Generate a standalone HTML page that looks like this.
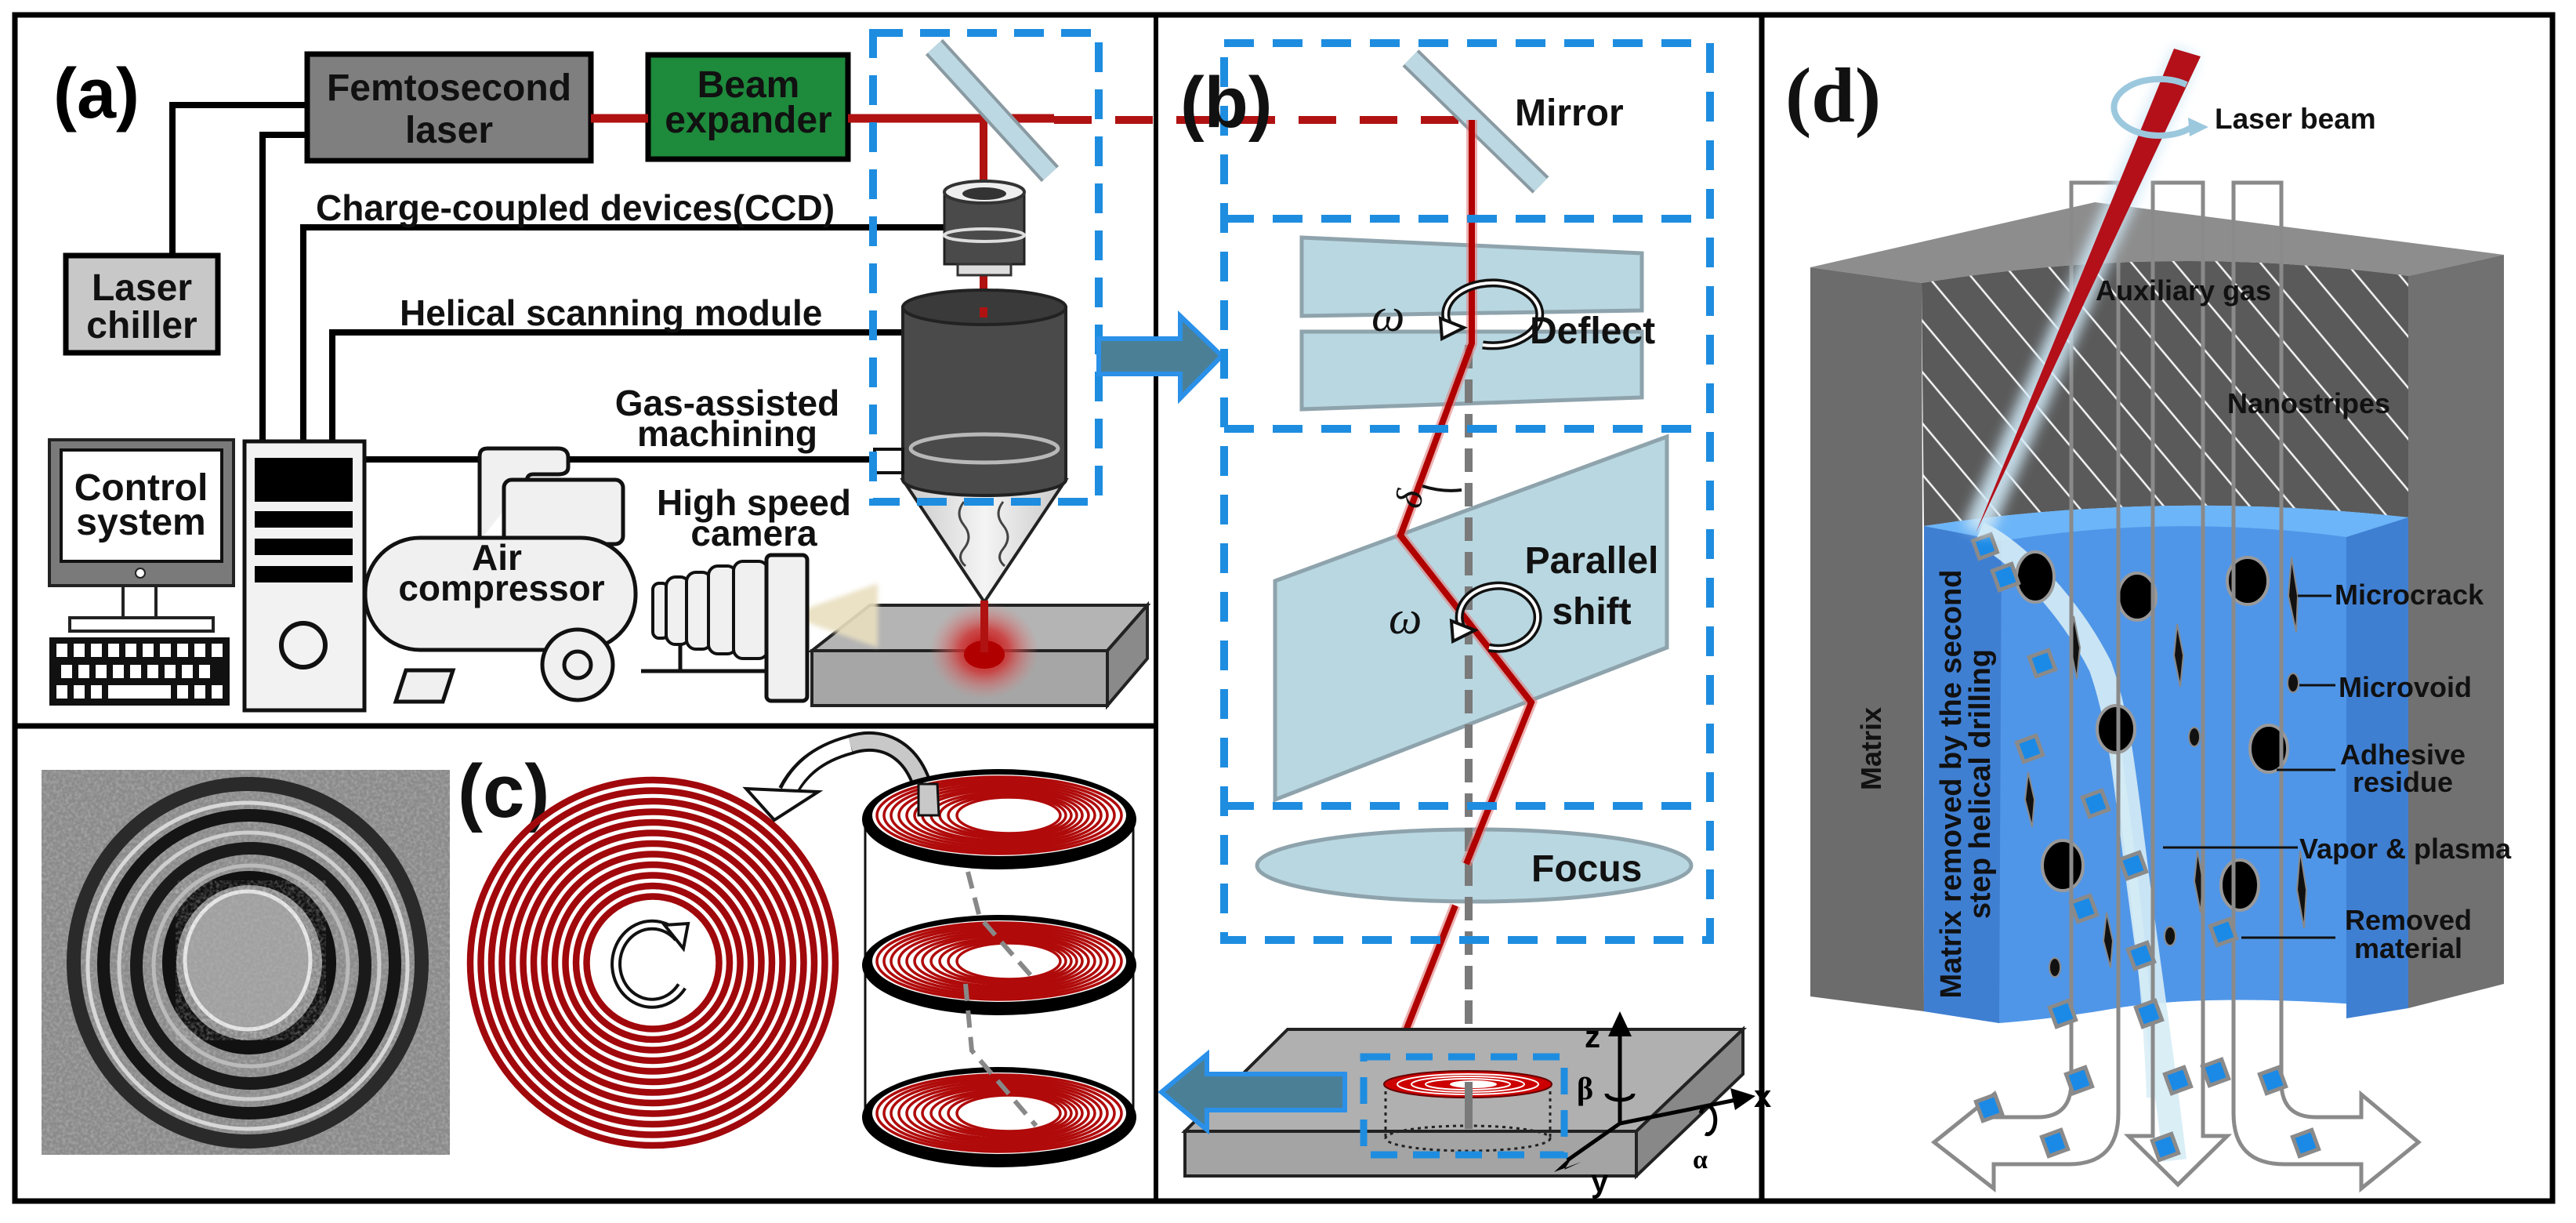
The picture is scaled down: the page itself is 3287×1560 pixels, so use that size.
<!DOCTYPE html>
<html><head><meta charset="utf-8"><style>
html,body{margin:0;padding:0;background:#fff;}
svg{display:block;font-family:"Liberation Sans",Arial,sans-serif;}
</style></head><body>
<svg width="3287" height="1560" viewBox="0 0 3287 1560" xmlns="http://www.w3.org/2000/svg">
<defs>
<pattern id="hatch" patternUnits="userSpaceOnUse" width="42" height="42" patternTransform="rotate(-40)">
<rect width="42" height="42" fill="#5a5a5a"/><line x1="20" y1="0" x2="20" y2="42" stroke="#f4f4f4" stroke-width="2.5"/></pattern>
<radialGradient id="glow" cx="0.5" cy="0.5" r="0.5"><stop offset="0" stop-color="#c00000"/><stop offset="0.45" stop-color="#d03030" stop-opacity="0.8"/><stop offset="1" stop-color="#e08080" stop-opacity="0"/></radialGradient>
<linearGradient id="cone" x1="0" x2="1"><stop offset="0" stop-color="#c8c8c8"/><stop offset="0.5" stop-color="#f4f4f4"/><stop offset="1" stop-color="#c8c8c8"/></linearGradient>
<filter id="blur8"><feGaussianBlur stdDeviation="8"/></filter>
<filter id="blur3"><feGaussianBlur stdDeviation="3"/></filter>
<filter id="noise"><feTurbulence type="fractalNoise" baseFrequency="0.25" numOctaves="2" seed="3"/><feColorMatrix type="matrix" values="0 0 0 0 0.5  0 0 0 0 0.5  0 0 0 0 0.5  0 0 0 1.4 -0.5"/></filter>
<clipPath id="photo"><rect x="53" y="982" width="521" height="491"/></clipPath>
</defs>
<rect width="3287" height="1560" fill="#fff"/>

<rect x="19" y="19" width="3238" height="1513" fill="none" stroke="#000" stroke-width="7"/>
<line x1="1475" y1="19" x2="1475" y2="1532" stroke="#000" stroke-width="6"/>
<line x1="2248" y1="19" x2="2248" y2="1532" stroke="#000" stroke-width="7"/>
<line x1="19" y1="926" x2="1475" y2="926" stroke="#000" stroke-width="7"/>

<!-- ============ PANEL A ============ -->
<text x="68" y="150" font-size="90" font-weight="bold">(a)</text>
<g stroke="#000" stroke-width="8" fill="none">
<polyline points="220,324 220,134 392,134"/>
<polyline points="335,563 335,172 392,172"/>
<polyline points="387,563 387,290 1205,290"/>
<polyline points="424,563 424,424 1152,424"/>
<line x1="465" y1="586" x2="1116" y2="586"/>
</g>
<rect x="392" y="69" width="362" height="136" fill="#7f7f7f" stroke="#000" stroke-width="7"/>
<text x="573" y="128" font-size="48" font-weight="bold" text-anchor="middle" fill="#111">Femtosecond</text>
<text x="573" y="182" font-size="48" font-weight="bold" text-anchor="middle" fill="#111">laser</text>
<rect x="827" y="70" width="255" height="133" fill="#1e8a3c" stroke="#000" stroke-width="7"/>
<text x="955" y="124" font-size="48" font-weight="bold" text-anchor="middle" fill="#111">Beam</text>
<text x="955" y="169" font-size="48" font-weight="bold" text-anchor="middle" fill="#111">expander</text>
<rect x="84" y="326" width="194" height="124" fill="#c8c8c8" stroke="#000" stroke-width="7"/>
<text x="181" y="383" font-size="48" font-weight="bold" text-anchor="middle" fill="#111">Laser</text>
<text x="181" y="431" font-size="48" font-weight="bold" text-anchor="middle" fill="#111">chiller</text>
<line x1="754" y1="151" x2="827" y2="151" stroke="#b01212" stroke-width="11"/>
<line x1="1082" y1="151" x2="1345" y2="151" stroke="#b01212" stroke-width="11"/>
<line x1="1345" y1="153" x2="1880" y2="153" stroke="#b01212" stroke-width="10" stroke-dasharray="48,30"/>
<line x1="1255" y1="151" x2="1255" y2="240" stroke="#b01212" stroke-width="10"/>
<line x1="1255" y1="345" x2="1255" y2="405" stroke="#b01212" stroke-width="10"/>
<line x1="1192" y1="60" x2="1340" y2="222" stroke="#8a9aa2" stroke-width="30"/>
<line x1="1192" y1="60" x2="1340" y2="222" stroke="#bcd8e2" stroke-width="22"/>
<text x="403" y="281" font-size="46" font-weight="bold" fill="#111">Charge-coupled devices(CCD)</text>
<text x="510" y="415" font-size="46" font-weight="bold" fill="#111">Helical scanning module</text>
<text x="928" y="530" font-size="46" font-weight="bold" text-anchor="middle" fill="#111">Gas-assisted</text>
<text x="928" y="569" font-size="46" font-weight="bold" text-anchor="middle" fill="#111">machining</text>
<rect x="1205" y="245" width="102" height="92" fill="#4a4a4a" stroke="#222" stroke-width="3"/>
<ellipse cx="1256" cy="245" rx="51" ry="14" fill="#eee" stroke="#333" stroke-width="4"/>
<ellipse cx="1256" cy="247" rx="28" ry="8" fill="#333"/>
<ellipse cx="1256" cy="300" rx="51" ry="8" fill="none" stroke="#ddd" stroke-width="4"/>
<rect x="1222" y="337" width="68" height="14" fill="#ddd" stroke="#333" stroke-width="3"/>
<polygon points="1152,612 1360,612 1256,768" fill="url(#cone)" stroke="#222" stroke-width="4"/>
<path d="M1230,640 q-12,15 0,30 q12,15 0,30 q-10,12 2,22 M1280,640 q-12,15 0,30 q12,15 0,30 q-10,12 2,22" fill="none" stroke="#444" stroke-width="3"/>
<rect x="1152" y="392" width="208" height="220" fill="#4a4a4a" stroke="#222" stroke-width="4"/>
<ellipse cx="1256" cy="612" rx="104" ry="20" fill="#4a4a4a" stroke="#222" stroke-width="4"/>
<rect x="1154" y="560" width="204" height="50" fill="#4a4a4a"/>
<ellipse cx="1256" cy="392" rx="104" ry="22" fill="#3a3a3a" stroke="#222" stroke-width="4"/>
<line x1="1255" y1="392" x2="1255" y2="405" stroke="#b01212" stroke-width="10"/>
<ellipse cx="1256" cy="572" rx="94" ry="18" fill="none" stroke="#b8b8b8" stroke-width="5"/>
<rect x="1116" y="573" width="36" height="30" fill="#fff" stroke="#111" stroke-width="4"/>
<rect x="1114" y="42" width="288" height="598" fill="none" stroke="#1e8de0" stroke-width="10" stroke-dasharray="38,22"/>
<polygon points="1402,432 1506,432 1506,403 1559,454 1506,508 1506,477 1402,477" fill="#4b7f96" stroke="#2a90e8" stroke-width="6"/>
<polygon points="1110,772 1464,772 1413,830 1036,830" fill="#b4b4b4" stroke="#222" stroke-width="4"/>
<polygon points="1036,830 1413,830 1413,900 1036,900" fill="#a6a6a6" stroke="#222" stroke-width="4"/>
<polygon points="1413,830 1464,772 1464,840 1413,900" fill="#8a8a8a" stroke="#222" stroke-width="4"/>
<ellipse cx="1256" cy="830" rx="70" ry="62" fill="url(#glow)"/>
<ellipse cx="1256" cy="835" rx="26" ry="18" fill="#b00000"/>
<line x1="1256" y1="766" x2="1256" y2="832" stroke="#b01212" stroke-width="10"/>
<polygon points="1004,785 1120,744 1120,826" fill="#e9dfbf" opacity="0.9" filter="url(#blur3)"/>
<rect x="63" y="561" width="235" height="186" fill="#7a7a7a" stroke="#222" stroke-width="4"/>
<rect x="78" y="574" width="205" height="142" fill="#fff" stroke="#111" stroke-width="4"/>
<text x="180" y="638" font-size="48" font-weight="bold" text-anchor="middle" fill="#111">Control</text>
<text x="180" y="682" font-size="48" font-weight="bold" text-anchor="middle" fill="#111">system</text>
<circle cx="179" cy="731" r="6" fill="#fff" stroke="#222" stroke-width="2"/>
<rect x="157" y="747" width="42" height="41" fill="#fff" stroke="#222" stroke-width="4"/>
<rect x="89" y="788" width="183" height="17" fill="#fff" stroke="#222" stroke-width="4"/>
<rect x="63" y="813" width="230" height="87" fill="#111"/>
<g fill="#fff">
<rect x="72" y="821" width="14" height="17"/><rect x="94" y="821" width="14" height="17"/><rect x="116" y="821" width="14" height="17"/><rect x="138" y="821" width="14" height="17"/><rect x="160" y="821" width="14" height="17"/><rect x="182" y="821" width="14" height="17"/><rect x="204" y="821" width="14" height="17"/><rect x="226" y="821" width="14" height="17"/><rect x="248" y="821" width="14" height="17"/><rect x="270" y="821" width="14" height="17"/>
<rect x="78" y="848" width="14" height="17"/><rect x="100" y="848" width="14" height="17"/><rect x="122" y="848" width="14" height="17"/><rect x="144" y="848" width="14" height="17"/><rect x="166" y="848" width="14" height="17"/><rect x="188" y="848" width="14" height="17"/><rect x="210" y="848" width="14" height="17"/><rect x="232" y="848" width="14" height="17"/><rect x="254" y="848" width="14" height="17"/>
<rect x="72" y="874" width="14" height="17"/><rect x="94" y="874" width="14" height="17"/><rect x="116" y="874" width="14" height="17"/><rect x="138" y="874" width="80" height="17"/><rect x="226" y="874" width="14" height="17"/><rect x="248" y="874" width="14" height="17"/><rect x="270" y="874" width="14" height="17"/>
</g>
<rect x="312" y="563" width="153" height="343" fill="#f2f2f2" stroke="#111" stroke-width="5"/>
<rect x="325" y="584" width="125" height="56" fill="#000"/>
<rect x="325" y="652" width="125" height="21" fill="#000"/>
<rect x="325" y="687" width="125" height="21" fill="#000"/>
<rect x="325" y="722" width="125" height="21" fill="#000"/>
<ellipse cx="387" cy="823" rx="28" ry="28" fill="none" stroke="#111" stroke-width="6"/>
<path d="M612,690 V582 Q612,572 622,572 H712 Q725,572 725,584 V596 Q725,605 712,605 H680 Q672,605 672,615" fill="#f0f0f0" stroke="#111" stroke-width="5"/>
<rect x="643" y="612" width="152" height="82" rx="10" fill="#f0f0f0" stroke="#111" stroke-width="5"/>
<rect x="466" y="686" width="345" height="143" rx="70" fill="#f0f0f0" stroke="#111" stroke-width="5"/>
<text x="634" y="727" font-size="46" font-weight="bold" text-anchor="middle" fill="#111">Air</text>
<text x="640" y="766" font-size="46" font-weight="bold" text-anchor="middle" fill="#111">compressor</text>
<polygon points="518,855 578,855 565,895 505,895" fill="#f0f0f0" stroke="#111" stroke-width="5"/>
<circle cx="737" cy="848" r="45" fill="#f0f0f0" stroke="#111" stroke-width="5"/>
<circle cx="737" cy="848" r="17" fill="#f0f0f0" stroke="#111" stroke-width="5"/>
<text x="962" y="657" font-size="46" font-weight="bold" text-anchor="middle" fill="#111">High speed</text>
<text x="962" y="696" font-size="46" font-weight="bold" text-anchor="middle" fill="#111">camera</text>
<line x1="818" y1="856" x2="1030" y2="856" stroke="#111" stroke-width="5"/>
<line x1="868" y1="823" x2="868" y2="856" stroke="#111" stroke-width="5"/>
<rect x="833" y="744" width="20" height="70" rx="8" fill="#f0f0f0" stroke="#111" stroke-width="4"/>
<rect x="850" y="736" width="30" height="86" rx="12" fill="#f0f0f0" stroke="#111" stroke-width="4"/>
<rect x="876" y="730" width="32" height="98" rx="12" fill="#f0f0f0" stroke="#111" stroke-width="4"/>
<rect x="904" y="722" width="36" height="112" rx="12" fill="#f0f0f0" stroke="#111" stroke-width="4"/>
<rect x="936" y="716" width="44" height="124" rx="12" fill="#f0f0f0" stroke="#111" stroke-width="4"/>
<rect x="978" y="708" width="52" height="186" rx="6" fill="#f0f0f0" stroke="#111" stroke-width="5"/>

<!-- ============ PANEL C ============ -->
<g clip-path="url(#photo)">
<rect x="53" y="982" width="521" height="491" fill="#8a8a8a"/>
<rect x="53" y="982" width="521" height="491" filter="url(#noise)" opacity="0.8"/>
<g fill="none">
<ellipse cx="316" cy="1228" rx="222" ry="228" stroke="#2a2a2a" stroke-width="18"/>
<ellipse cx="316" cy="1232" rx="204" ry="208" stroke="#d8d8d8" stroke-width="5"/>
<ellipse cx="318" cy="1230" rx="186" ry="190" stroke="#151515" stroke-width="16"/>
<ellipse cx="318" cy="1232" rx="166" ry="170" stroke="#cfcfcf" stroke-width="5"/>
<ellipse cx="320" cy="1232" rx="146" ry="150" stroke="#1a1a1a" stroke-width="16"/>
<ellipse cx="320" cy="1232" rx="124" ry="128" stroke="#bbb" stroke-width="5"/>
<ellipse cx="318" cy="1228" rx="102" ry="108" stroke="#111" stroke-width="18"/>
</g>
<ellipse cx="316" cy="1225" rx="80" ry="88" fill="#a0a0a0" stroke="#e8e8e8" stroke-width="5"/>
<rect x="240" y="1140" width="160" height="170" filter="url(#noise)" opacity="0.6"/>
</g>
<text x="584" y="1042" font-size="96" font-weight="bold" fill="#111">(c)</text>
<g fill="none" stroke="#a0080c" stroke-width="8.5">
<circle cx="833" cy="1228" r="233"/><circle cx="833" cy="1228" r="219.5"/><circle cx="833" cy="1228" r="206"/><circle cx="833" cy="1228" r="192.5"/><circle cx="833" cy="1228" r="179"/><circle cx="833" cy="1228" r="165.5"/><circle cx="833" cy="1228" r="152"/><circle cx="833" cy="1228" r="138.5"/><circle cx="833" cy="1228" r="125"/><circle cx="833" cy="1228" r="111.5"/><circle cx="833" cy="1228" r="98"/><circle cx="833" cy="1228" r="84.5"/>
</g>
<path d="M866,1196 A46,50 0 1 0 870,1258" fill="none" stroke="#111" stroke-width="14"/>
<path d="M866,1196 A46,50 0 1 0 870,1258" fill="none" stroke="#fff" stroke-width="6"/>
<polygon points="848,1180 878,1178 872,1210" fill="#fff" stroke="#111" stroke-width="4"/>
<path d="M1184,1045 C1180,960 1130,935 1085,950 C1040,962 1018,985 1005,1010" fill="none" stroke="#111" stroke-width="26"/>
<path d="M1184,1045 C1180,960 1130,935 1085,950" fill="none" stroke="#c8c8c8" stroke-width="18"/>
<path d="M1085,950 C1040,962 1018,985 1005,1012" fill="none" stroke="#fff" stroke-width="18"/>
<polygon points="952,1006 1044,1010 988,1046" fill="#fff" stroke="#111" stroke-width="4"/>
<line x1="1104" y1="1045" x2="1104" y2="1424" stroke="#111" stroke-width="3"/>
<line x1="1446" y1="1045" x2="1446" y2="1424" stroke="#111" stroke-width="3"/>
<g id="disk1">
<ellipse cx="1275" cy="1045" rx="175" ry="64" fill="#000"/>
<ellipse cx="1275" cy="1040" rx="162" ry="52" fill="#fff"/>
<g fill="none" stroke="#b00a0a" stroke-width="3.5">
<ellipse cx="1275" cy="1040" rx="156" ry="49"/><ellipse cx="1275" cy="1040" rx="147" ry="46"/><ellipse cx="1275" cy="1040" rx="138" ry="43"/><ellipse cx="1276" cy="1040" rx="129" ry="40"/><ellipse cx="1277" cy="1040" rx="120" ry="37"/><ellipse cx="1278" cy="1040" rx="111" ry="34"/><ellipse cx="1279" cy="1040" rx="102" ry="32"/><ellipse cx="1281" cy="1040" rx="93" ry="29"/><ellipse cx="1283" cy="1040" rx="84" ry="27"/><ellipse cx="1285" cy="1040" rx="75" ry="25"/><ellipse cx="1287" cy="1040" rx="66" ry="23"/></g>
<ellipse cx="1290" cy="1040" rx="55" ry="19" fill="#fff"/>
</g>
<use href="#disk1" transform="translate(0,186)"/>
<use href="#disk1" transform="translate(0,380)"/>
<g stroke="#888" stroke-width="6" stroke-dasharray="22,12" fill="none">
<polyline points="1235,1112 1250,1170 1316,1245"/>
<polyline points="1232,1255 1240,1340 1322,1436"/>
</g>
<path d="M1172,1000 L1172,1040 L1198,1040 L1196,1000 Z" fill="#c8c8c8" stroke="#111" stroke-width="3"/>

<!-- ============ PANEL B ============ -->
<polygon points="1661,303 2095,323 2095,396 1661,403" fill="#b8d7e1" stroke="#8ea3ac" stroke-width="5"/>
<polygon points="1661,423 2095,423 2095,507 1661,522" fill="#b8d7e1" stroke="#8ea3ac" stroke-width="5"/>
<polygon points="1627,741 2127,557 2127,826 1627,1020" fill="#b8d7e1" stroke="#8ea3ac" stroke-width="5"/>
<ellipse cx="1881" cy="1104" rx="277" ry="46" fill="#b8d7e1" stroke="#8ea3ac" stroke-width="5"/>
<line x1="1800" y1="74" x2="1966" y2="236" stroke="#8a9aa2" stroke-width="30"/>
<line x1="1800" y1="74" x2="1966" y2="236" stroke="#bcd8e2" stroke-width="22"/>
<text x="1933" y="160" font-size="48" font-weight="bold" fill="#111">Mirror</text>
<line x1="1874" y1="440" x2="1874" y2="1440" stroke="#7a7a7a" stroke-width="10" stroke-dasharray="30,14"/>
<polyline points="1878,153 1878,438 1787,683 1954,896 1871,1102" fill="none" stroke="#e08080" stroke-width="14" opacity="0.6"/>
<polyline points="1878,153 1878,438 1787,683 1954,896 1871,1102" fill="none" stroke="#b00000" stroke-width="8"/>
<line x1="1857" y1="1155" x2="1768" y2="1380" stroke="#e08080" stroke-width="14" opacity="0.6"/>
<line x1="1857" y1="1155" x2="1768" y2="1380" stroke="#b00000" stroke-width="8"/>
<path d="M1852,420 A60,40 0 1 1 1892,440" fill="none" stroke="#111" stroke-width="11"/>
<path d="M1852,420 A60,40 0 1 1 1892,440" fill="none" stroke="#fff" stroke-width="4"/>
<polygon points="1838,406 1868,418 1840,432" fill="#fff" stroke="#111" stroke-width="4"/>
<text x="1750" y="422" font-size="60" font-style="italic" font-family="Liberation Serif,serif" fill="#111">ω</text>
<text x="1952" y="438" font-size="48" font-weight="bold" fill="#111">Deflect</text>
<path d="M1868,806 A50,40 0 1 1 1900,826" fill="none" stroke="#111" stroke-width="11"/>
<path d="M1868,806 A50,40 0 1 1 1900,826" fill="none" stroke="#fff" stroke-width="4"/>
<polygon points="1852,792 1882,804 1854,818" fill="#fff" stroke="#111" stroke-width="4"/>
<text x="1772" y="808" font-size="60" font-style="italic" font-family="Liberation Serif,serif" fill="#111">ω</text>
<text x="2031" y="731" font-size="48" font-weight="bold" text-anchor="middle" fill="#111">Parallel</text>
<text x="2031" y="796" font-size="48" font-weight="bold" text-anchor="middle" fill="#111">shift</text>
<path d="M1815,620 Q1840,628 1865,625" fill="none" stroke="#111" stroke-width="4"/>
<text x="0" y="0" font-size="48" font-style="italic" font-family="Liberation Serif,serif" fill="#111" transform="translate(1812,650) rotate(-80)">δ</text>
<text x="1954" y="1124" font-size="48" font-weight="bold" fill="#111">Focus</text>
<g fill="none" stroke="#1e8de0" stroke-width="10" stroke-dasharray="38,24">
<rect x="1562" y="55" width="620" height="1144"/>
<line x1="1562" y1="279" x2="2182" y2="279"/>
<line x1="1562" y1="547" x2="2182" y2="547"/>
<line x1="1562" y1="1028" x2="2182" y2="1028"/>
</g>
<text x="1506" y="162" font-size="92" font-weight="bold" fill="#111">(b)</text>
<polygon points="1643,1313 2224,1313 2088,1443 1512,1443" fill="#b0b0b0" stroke="#222" stroke-width="4"/>
<polygon points="1512,1443 2088,1443 2088,1500 1512,1500" fill="#a4a4a4" stroke="#222" stroke-width="4"/>
<polygon points="2088,1443 2224,1313 2224,1370 2088,1500" fill="#888" stroke="#222" stroke-width="4"/>
<ellipse cx="1873" cy="1452" rx="105" ry="16" fill="none" stroke="#222" stroke-width="3" stroke-dasharray="4,5"/>
<line x1="1768" y1="1383" x2="1768" y2="1452" stroke="#222" stroke-width="3" stroke-dasharray="4,5"/>
<line x1="1978" y1="1383" x2="1978" y2="1452" stroke="#222" stroke-width="3" stroke-dasharray="4,5"/>
<ellipse cx="1873" cy="1383" rx="107" ry="17" fill="#c00" stroke="#600" stroke-width="2"/>
<g fill="none" stroke="#fff" stroke-width="2"><ellipse cx="1873" cy="1383" rx="90" ry="13"/><ellipse cx="1873" cy="1383" rx="72" ry="10"/><ellipse cx="1873" cy="1383" rx="54" ry="7"/></g>
<ellipse cx="1880" cy="1383" rx="30" ry="5" fill="#fff"/>
<line x1="1874" y1="1380" x2="1874" y2="1440" stroke="#7a7a7a" stroke-width="10"/>
<rect x="1740" y="1348" width="256" height="125" fill="none" stroke="#1e8de0" stroke-width="9" stroke-dasharray="34,20"/>
<polygon points="1716,1370 1540,1370 1540,1345 1482,1393 1540,1441 1540,1416 1716,1416" fill="#4b7f96" stroke="#2a90e8" stroke-width="6"/>
<g stroke="#000" stroke-width="5" fill="none">
<line x1="2067" y1="1433" x2="2067" y2="1310"/>
<line x1="2067" y1="1433" x2="2215" y2="1403"/>
<line x1="2067" y1="1433" x2="2000" y2="1480"/>
<path d="M2050,1395 a17,8 0 1 0 34,0"/>
<path d="M2170,1420 a10,18 0 1 1 6,26"/>
</g>
<polygon points="2067,1290 2052,1322 2082,1322" fill="#000"/>
<polygon points="2240,1398 2208,1388 2214,1416" fill="#000"/>
<polygon points="1983,1495 2010,1470 1996,1492 2018,1482" fill="#000"/>
<text x="2022" y="1336" font-size="40" font-weight="bold">z</text>
<text x="2012" y="1402" font-size="40" font-weight="bold" font-family="Liberation Serif,serif">β</text>
<text x="2238" y="1412" font-size="40" font-weight="bold">x</text>
<text x="2030" y="1520" font-size="40" font-weight="bold">y</text>
<text x="2160" y="1490" font-size="34" font-weight="bold" font-family="Liberation Serif,serif">α</text>

<!-- ============ PANEL D ============ -->
<text x="2278" y="155" font-size="100" font-weight="bold" font-family="Liberation Serif,serif" fill="#111">(d)</text>
<path d="M2310,341 L2673,258 L3195,325 L3073,352 Q2760,310 2452,361 Z" fill="#8d8d8d"/>
<path d="M2310,341 L2452,361 L2455,1290 L2310,1271 Z" fill="#6c6c6c"/>
<path d="M3073,352 L3195,325 L3195,1255 L3073,1286 Z" fill="#717171"/>
<path d="M2452,361 Q2760,310 3073,352 L3073,660 Q2760,625 2455,671 Z" fill="url(#hatch)"/>
<path d="M2455,671 Q2760,625 3073,660 L3073,1286 Q2830,1265 2700,1286 Q2620,1300 2551,1305 L2455,1290 Z" fill="#5096e8"/>
<path d="M2455,671 L2554,690 L2551,1305 L2455,1290 Z" fill="#3f7fd2"/>
<path d="M2994,685 L3073,660 L3073,1286 L2994,1299 Z" fill="#3f7fd2"/>
<path d="M2455,671 Q2760,625 3073,660 L2994,685 Q2770,655 2554,690 Z" fill="#6cb5f8"/>
<text transform="translate(2400,955) rotate(-90)" font-size="36" font-weight="bold" text-anchor="middle" fill="#111">Matrix</text>
<g transform="translate(2502,1000) rotate(-90)" font-size="38" font-weight="bold" text-anchor="middle" fill="#111">
<text x="0" y="0">Matrix removed by the second</text>
<text x="0" y="37">step  helical drilling</text></g>
<path d="M2525,680 C2570,700 2640,770 2680,850 C2705,920 2712,1000 2725,1100 C2740,1220 2760,1350 2775,1480" fill="none" stroke="#d6ecf5" stroke-width="30" opacity="0.9"/>
<path d="M2700,950 C2720,1100 2740,1250 2745,1400" fill="none" stroke="#d6ecf5" stroke-width="12" opacity="0.8"/>
<g fill="#000" stroke="#999" stroke-width="4">
<ellipse cx="2597" cy="736" rx="24" ry="32"/><ellipse cx="2727" cy="761" rx="24" ry="30"/><ellipse cx="2868" cy="741" rx="26" ry="30"/><ellipse cx="2700" cy="930" rx="24" ry="30"/><ellipse cx="2895" cy="955" rx="24" ry="30"/><ellipse cx="2632" cy="1104" rx="26" ry="32"/><ellipse cx="2858" cy="1129" rx="24" ry="32"/>
</g>
<g fill="#111" stroke="#888" stroke-width="2">
<polygon points="2646,786 2654,826 2650,866 2642,826"/><polygon points="2778,796 2786,836 2782,876 2774,836"/><polygon points="2924,711 2932,760 2930,806 2920,760"/><polygon points="2588,985 2596,1020 2593,1055 2584,1020"/><polygon points="2688,1164 2696,1200 2693,1234 2684,1200"/><polygon points="2804,1085 2811,1124 2808,1164 2800,1124"/><polygon points="2935,1085 2943,1135 2940,1184 2931,1135"/>
<ellipse cx="2926" cy="871" rx="7" ry="12"/><ellipse cx="2800" cy="940" rx="7" ry="12"/><ellipse cx="2769" cy="1194" rx="7" ry="12"/><ellipse cx="2622" cy="1234" rx="7" ry="12"/>
</g>
<g fill="none" stroke="#8a8a8a" stroke-width="5">
<path d="M2643,233 H2703 V1420 Q2703,1485 2640,1485 H2544 V1516 L2468,1457 L2544,1396 V1425 H2600 Q2643,1425 2643,1380 Z"/>
<path d="M2747,233 H2811 V1449 H2842 L2779,1511 L2716,1449 H2747 Z"/>
<path d="M2850,233 H2911 V1380 Q2911,1425 2955,1425 H3013 V1396 L3086,1457 L3013,1516 V1485 H2915 Q2850,1485 2850,1420 Z"/>
</g>
<g fill="#1b8ae6" stroke="#8a8a8a" stroke-width="5">
<rect x="-12" y="-12" width="24" height="24" transform="translate(2533,697) rotate(-20)"/>
<rect x="-13" y="-13" width="26" height="26" transform="translate(2559,736) rotate(-20)"/>
<rect x="-13" y="-13" width="26" height="26" transform="translate(2606,846) rotate(-20)"/>
<rect x="-13" y="-13" width="26" height="26" transform="translate(2590,955) rotate(-20)"/>
<rect x="-13" y="-13" width="26" height="26" transform="translate(2674,1025) rotate(-20)"/>
<rect x="-13" y="-13" width="26" height="26" transform="translate(2722,1104) rotate(-20)"/>
<rect x="-13" y="-13" width="26" height="26" transform="translate(2659,1159) rotate(-20)"/>
<rect x="-13" y="-13" width="26" height="26" transform="translate(2632,1293) rotate(-20)"/>
<rect x="-13" y="-13" width="26" height="26" transform="translate(2742,1293) rotate(-20)"/>
<rect x="-13" y="-13" width="26" height="26" transform="translate(2653,1378) rotate(-20)"/>
<rect x="-13" y="-13" width="26" height="26" transform="translate(2779,1378) rotate(-20)"/>
<rect x="-13" y="-13" width="26" height="26" transform="translate(2827,1368) rotate(-20)"/>
<rect x="-13" y="-13" width="26" height="26" transform="translate(2900,1378) rotate(-20)"/>
<rect x="-13" y="-13" width="26" height="26" transform="translate(2538,1413) rotate(-20)"/>
<rect x="-13" y="-13" width="26" height="26" transform="translate(2622,1458) rotate(-20)"/>
<rect x="-13" y="-13" width="26" height="26" transform="translate(2763,1463) rotate(-20)"/>
<rect x="-13" y="-13" width="26" height="26" transform="translate(2942,1458) rotate(-20)"/>
<rect x="-13" y="-13" width="26" height="26" transform="translate(2837,1189) rotate(-20)"/>
<rect x="-13" y="-13" width="26" height="26" transform="translate(2732,1219) rotate(-20)"/>
</g>
<line x1="2790" y1="66" x2="2522" y2="678" stroke="#cfe8f6" stroke-width="36" filter="url(#blur8)" opacity="0.9"/>
<polygon points="2774,62 2808,72 2521,680" fill="#b3101a"/>
<path d="M2790,108 A58,36 0 1 0 2800,160" fill="none" stroke="#9cc8de" stroke-width="8"/>
<polygon points="2792,150 2818,162 2794,174" fill="#9cc8de"/>
<text x="2826" y="164" font-size="37" font-weight="bold" fill="#111">Laser beam</text>
<text x="2674" y="383" font-size="36" font-weight="bold" fill="#111">Auxiliary gas</text>
<text x="2842" y="527" font-size="36" font-weight="bold" fill="#111">Nanostripes</text>
<g stroke="#111" stroke-width="3">
<line x1="2932" y1="760" x2="2975" y2="760"/>
<line x1="2934" y1="874" x2="2980" y2="874"/>
<line x1="2905" y1="982" x2="2980" y2="982"/>
<line x1="2760" y1="1081" x2="2932" y2="1081"/>
<line x1="2860" y1="1196" x2="2980" y2="1196"/>
</g>
<g font-size="36" font-weight="bold" fill="#111">
<text x="2979" y="771">Microcrack</text>
<text x="2984" y="889">Microvoid</text>
<text x="3066" y="975" text-anchor="middle">Adhesive</text>
<text x="3066" y="1010" text-anchor="middle">residue</text>
<text x="2934" y="1095">Vapor &amp; plasma</text>
<text x="3073" y="1186" text-anchor="middle">Removed</text>
<text x="3073" y="1222" text-anchor="middle">material</text>
</g>
</svg>
</body></html>
